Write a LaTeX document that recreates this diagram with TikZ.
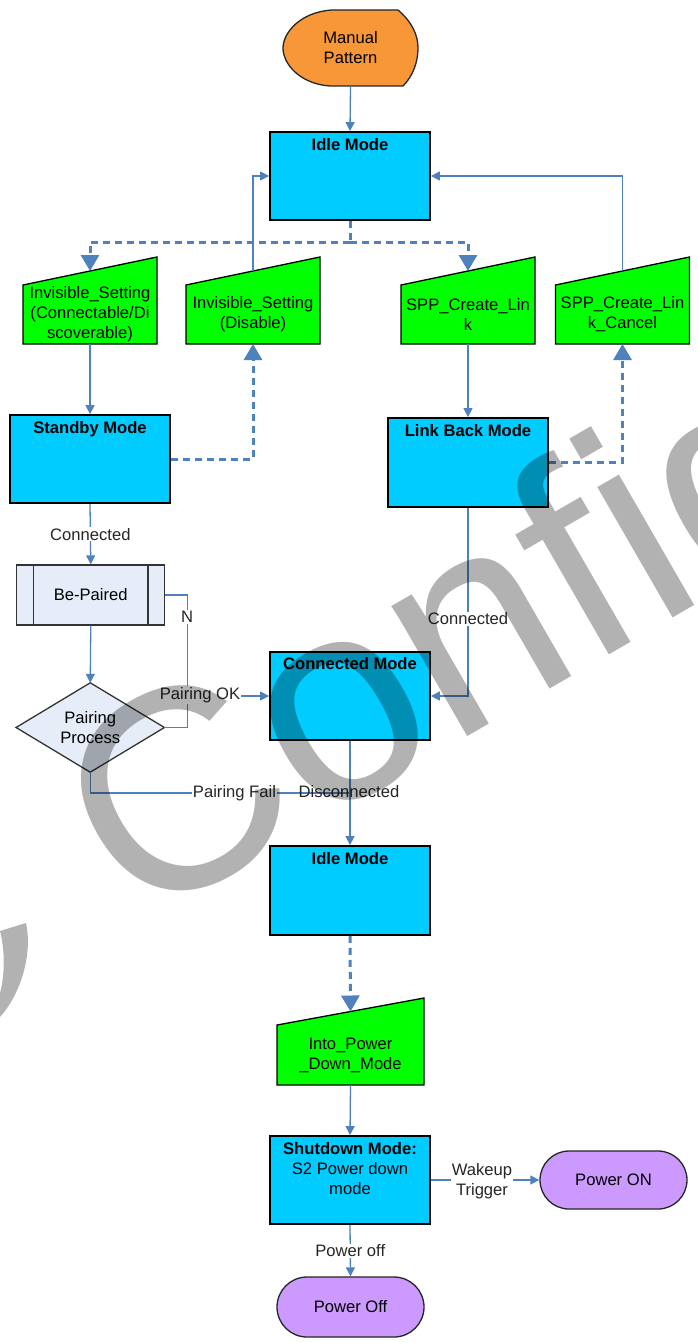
\documentclass[tikz,border=0pt]{standalone}
\usepackage{fontspec}
\setmainfont{Liberation Sans}
\usetikzlibrary{arrows.meta,calc}
\pgfdeclarelayer{bg}
\pgfsetlayers{bg,main}
\definecolor{lineblue}{RGB}{79,129,189}
\definecolor{modecyan}{RGB}{0,204,255}
\definecolor{inputgreen}{RGB}{0,255,0}
\definecolor{orangefill}{RGB}{247,151,55}
\definecolor{procfill}{RGB}{230,237,248}
\definecolor{lavender}{RGB}{204,153,255}
\definecolor{labeltext}{RGB}{38,38,38}
\newcommand{\mimshape}[4]{%
  \begin{pgfonlayer}{bg}\path[inshape] (#2,285) -- (#3,257) -- (#3,344) -- (#2,344) -- cycle;\end{pgfonlayer}
  \node[align=center] (#1) at ({(#2+#3)/2},314) {#4};
  \coordinate (#1-top) at ({(#2+#3)/2},271);
  \coordinate (#1-bot) at ({(#2+#3)/2},344);
}
\begin{document}
\begin{tikzpicture}[x=1pt,y=-1pt,
  every node/.style={font=\fontsize{16.6pt}{20pt}\selectfont, inner sep=0pt},
  modebox/.style={draw=black, line width=1.8pt, fill=modecyan, minimum width=160pt, minimum height=88pt},
  boxtitle/.style={font=\fontsize{16.6pt}{20pt}\selectfont\bfseries, anchor=base},
  inshape/.style={draw=black, line width=1.3pt, fill=inputgreen},
  conn/.style={draw=lineblue, line width=1.3pt, -{Triangle[length=9pt,width=9pt]}},
  plainline/.style={draw=lineblue, line width=1.3pt},
  dashline/.style={draw=lineblue, line width=3pt, dash pattern=on 7pt off 5pt},
  dasharrow/.style={dashline, -{Triangle[length=16pt,width=18pt]}},
  lbl/.style={fill=white, text=labeltext, align=center, inner sep=1pt},
  terminal/.style={draw=black!85, line width=1.3pt, fill=lavender, minimum width=147pt, minimum height=58pt, rounded corners=29pt},
]
\begin{pgfonlayer}{bg}
  \fill[white] (0,0) rectangle (698,1343);
\end{pgfonlayer}
\useasboundingbox (0,0) rectangle (698,1343);

% Manual Pattern
\node[align=center, minimum width=135pt, minimum height=76pt] (manual) at (350.5,48) {Manual\\Pattern};
\begin{pgfonlayer}{bg}
  \path[draw=black!85, line width=1.3pt, fill=orangefill]
    (332,10) -- (398,10) .. controls (412,22) and (418,35) .. (418,48)
    .. controls (418,62) and (413,76) .. (403,86) -- (330,86)
    .. controls (300,84) and (283,64) .. (283,48)
    .. controls (283,33) and (300,12) .. (332,10) -- cycle;
\end{pgfonlayer}

% mode boxes
\node[modebox] (idle1) at (350,176) {};
\node[boxtitle] at ($(idle1.north)+(0,19)$) {Idle Mode};
\node[modebox] (standby) at (90,459) {};
\node[boxtitle] at ($(standby.north)+(0,19)$) {Standby Mode};
\node[modebox, minimum height=89pt] (linkback) at (468,462.5) {};
\node[boxtitle] at ($(linkback.north)+(0,19)$) {Link Back Mode};
\node[modebox] (connected) at (350,696) {};
\node[boxtitle] at ($(connected.north)+(0,18.5)$) {Connected Mode};
\node[modebox, minimum height=89pt] (idle2) at (350,890.5) {};
\node[boxtitle] at ($(idle2.north)+(0,19)$) {Idle Mode};
\node[modebox] (shut) at (350,1180) {};
\node[align=center, anchor=north] at ($(shut.north)+(0,7)$) {\textbf{Shutdown Mode:}\\S2 Power down\\mode};

% manual input shapes
\mimshape{ina}{23}{157}{Invisible\_Setting\\(Connectable/Di\\scoverable)}
\mimshape{inb}{186}{320}{Invisible\_Setting\\(Disable)}
\mimshape{inc}{401}{535}{SPP\_Create\_Lin\\k}
\mimshape{ind}{555.5}{689.5}{SPP\_Create\_Lin\\k\_Cancel}
\begin{pgfonlayer}{bg}
  \path[inshape] (277,1025) -- (424,998) -- (424,1085) -- (277,1085) -- cycle;
\end{pgfonlayer}
\node[align=center] (into) at (350.5,1055) {Into\_Power\\\_Down\_Mode};
\coordinate (into-top) at (350.5,1011.5);
\coordinate (into-bot) at (350.5,1085);

% Be-Paired
\node[draw=black!80, line width=1.3pt, fill=procfill, minimum width=148pt, minimum height=60pt] (bep) at (90.75,595) {Be-Paired};
\draw[black!80, line width=1.3pt] ($(bep.north west)+(17.5,0)$) -- ($(bep.south west)+(17.5,0)$);
\draw[black!80, line width=1.3pt] ($(bep.north east)+(-17.5,0)$) -- ($(bep.south east)+(-17.5,0)$);

% diamond
\node[align=center, minimum width=148pt, minimum height=89pt] (diam) at (90.25,727.5) {Pairing\\Process};
\begin{pgfonlayer}{bg}
  \path[draw=black!80, line width=1.3pt, fill=procfill] (diam.north) -- (diam.east) -- (diam.south) -- (diam.west) -- cycle;
\end{pgfonlayer}

% terminals
\node[terminal] (pon) at (613.5,1180) {Power ON};
\node[terminal, minimum height=60pt, rounded corners=30pt] (poff) at (350.5,1307) {Power Off};

% connectors
\draw[conn] (manual.south) -- (idle1.north);
\draw[dashline] (idle1.south) -- (350,242) coordinate (split);
\draw[dasharrow] (split) -| (ina-top);
\draw[dasharrow] (split) -| (inc-top);
\draw[conn] (ina-bot) -- (standby.north);
\draw[dasharrow] (standby.east) -| (inb-bot);
\draw[conn] (inb-top) |- (idle1.west);
\draw[conn] (inc-bot) -- (linkback.north);
\draw[dasharrow] (linkback.east) -| (ind-bot);
\draw[conn] (ind-top) |- (idle1.east);
\draw[conn] (standby.south) -- node[lbl] {Connected} (bep.north);
\draw[conn] (bep.south) -- (diam.north);
\draw[plainline] (bep.east) -- ++(22,0) coordinate (nc) -- (nc |- diam.east) -- (diam.east);
\node[lbl] at (187,617) {N};
\draw[conn] (nc |- connected.west) -- (connected.west);
\node[lbl] at (200,695) {Pairing OK};
\draw[conn] (linkback.south) |- (connected.east);
\node[lbl] at (468,619) {Connected};
\coordinate (pfend) at (350,793);
\draw[plainline] (diam.south) |- (pfend);
\node[lbl] at (234.5,793) {Pairing Fail};
\draw[conn] (connected.south) -- (idle2.north);
\node[text=labeltext] at (349,792) {Disconnected};
\draw[dasharrow] (idle2.south) -- (into-top);
\draw[conn] (into-bot) -- (shut.north);
\draw[conn] (shut.east) -- (pon.west);
\node[lbl] at (482,1181) {Wakeup\\Trigger};
\draw[conn] (shut.south) -- node[lbl] {Power off} (poff.north);

% watermark
\begin{scope}
  \clip (0,0) rectangle (698,1343);
  \node[rotate=30, anchor=base west, text=black, text opacity=0.3, font=\fontsize{285pt}{285pt}\selectfont] at (135,929) {Confidential};
  \fill[black, opacity=0.3] (0,931) -- (26,923) .. controls (33,955) and (20,995) .. (0,1017) -- (0,993) .. controls (5,975) and (5,950) .. (0,931) -- cycle;
\end{scope}
\end{tikzpicture}
\end{document}
